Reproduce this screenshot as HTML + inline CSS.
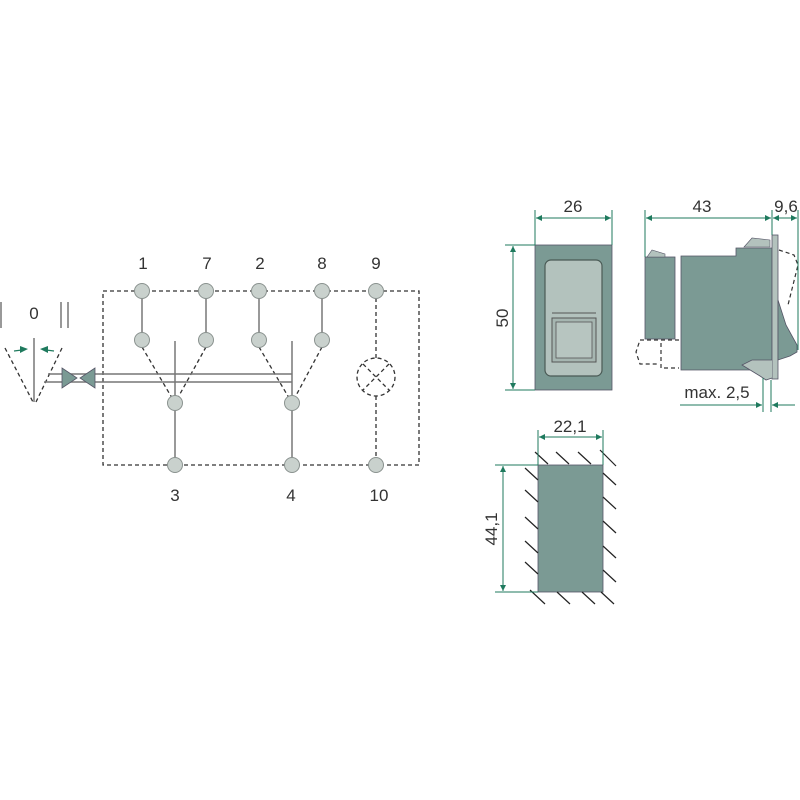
<!DOCTYPE html>
<html><head><style>html,body{margin:0;padding:0;background:#fff}svg{display:block}</style></head>
<body>
<svg width="800" height="800" viewBox="0 0 800 800" xmlns="http://www.w3.org/2000/svg" font-family="Liberation Sans, sans-serif">
<defs>
<marker id="a" viewBox="0 0 10 10" refX="10" refY="5" markerWidth="10" markerHeight="6" orient="auto-start-reverse" markerUnits="userSpaceOnUse"><path d="M0,0 L10,5 L0,10 z" fill="#1f7a5e"/></marker>
</defs>
<!-- schematic -->
<g fill="none" stroke="#333" stroke-width="1.3" stroke-dasharray="4,3">
<rect x="103" y="291" width="316" height="174"/>
<line x1="142" y1="347" x2="175" y2="403"/><line x1="206" y1="347" x2="175" y2="403"/>
<line x1="259" y1="347" x2="292" y2="403"/><line x1="322" y1="347" x2="292" y2="403"/>
<line x1="376" y1="291" x2="376" y2="358"/><line x1="376" y1="396" x2="376" y2="465"/>
<circle cx="376" cy="377" r="19"/>
<line x1="363" y1="364" x2="389" y2="390"/><line x1="389" y1="364" x2="363" y2="390"/>
<line x1="5" y1="348" x2="33" y2="402"/><line x1="62" y1="348" x2="36" y2="402"/>
</g>
<g stroke="#777" stroke-width="1.5" fill="none">
<line x1="142" y1="291" x2="142" y2="340"/><line x1="206" y1="291" x2="206" y2="340"/>
<line x1="259" y1="291" x2="259" y2="340"/><line x1="322" y1="291" x2="322" y2="340"/>
<line x1="175" y1="341" x2="175" y2="465"/><line x1="292" y1="341" x2="292" y2="465"/>
<line x1="48" y1="374" x2="292" y2="374"/><line x1="44" y1="382" x2="292" y2="382"/>
<line x1="34" y1="338" x2="34" y2="402"/>
<line x1="1" y1="302" x2="1" y2="328"/><line x1="61" y1="302" x2="61" y2="328"/><line x1="68" y1="302" x2="68" y2="328"/>
</g>
<path d="M62,368 L77,378 L62,388 z M95,368 L80,378 L95,388 z" fill="#7a9a94" stroke="#556" stroke-width="0.8"/>
<g fill="#c9d1cd" stroke="#8a928f" stroke-width="1">
<circle cx="142" cy="291" r="7.5"/><circle cx="206" cy="291" r="7.5"/><circle cx="259" cy="291" r="7.5"/><circle cx="322" cy="291" r="7.5"/><circle cx="376" cy="291" r="7.5"/>
<circle cx="142" cy="340" r="7.5"/><circle cx="206" cy="340" r="7.5"/><circle cx="259" cy="340" r="7.5"/><circle cx="322" cy="340" r="7.5"/>
<circle cx="175" cy="403" r="7.5"/><circle cx="292" cy="403" r="7.5"/>
<circle cx="175" cy="465" r="7.5"/><circle cx="292" cy="465" r="7.5"/><circle cx="376" cy="465" r="7.5"/>
</g>
<g stroke="#1f7a5e" stroke-width="1.2"><line x1="14" y1="351" x2="22" y2="350"/><line x1="54" y1="351" x2="46" y2="350"/></g>
<g fill="#1f7a5e"><path d="M20,346 L28,349 L20,353 z"/><path d="M48,346 L40,349 L48,353 z"/></g>
<g font-size="17" fill="#333" text-anchor="middle">
<text x="143" y="269">1</text><text x="207" y="269">7</text><text x="260" y="269">2</text><text x="322" y="269">8</text><text x="376" y="269">9</text>
<text x="175" y="501">3</text><text x="291" y="501">4</text><text x="379" y="501">10</text>
<text x="34" y="319">0</text>
</g>
<!-- front view -->
<rect x="535" y="245" width="77" height="145" fill="#7b9a94" stroke="#556" stroke-width="0.8"/>
<rect x="545" y="260" width="57" height="116" rx="6" fill="#b3c2bd" stroke="#4a5a55" stroke-width="1.2"/>
<line x1="552" y1="313" x2="596" y2="313" stroke="#555" stroke-width="1"/>
<rect x="552" y="318" width="44" height="44" fill="#a6b6b1" stroke="#555" stroke-width="1"/>
<rect x="556" y="322" width="36" height="36" fill="#b7c5c0" stroke="#555" stroke-width="0.8"/>
<!-- side view -->
<rect x="645" y="257" width="30" height="82" fill="#7b9a94" stroke="#556" stroke-width="0.8"/>
<path d="M647,257 L652,250 L665,254 L665,257 z" fill="#b3c2bd" stroke="#556" stroke-width="0.6"/>
<path d="M681,256 L736,256 L736,248 L772,248 L772,370 L681,370 z" fill="#7b9a94" stroke="#556" stroke-width="0.8"/>
<path d="M744,247 L752,238 L770,240 L770,247 z" fill="#b3c2bd" stroke="#556" stroke-width="0.6"/>
<rect x="772" y="235" width="6" height="144" fill="#b3c2bd" stroke="#556" stroke-width="0.8"/>
<path d="M778,300 L786,325 L797,345 L797,352 L790,356 L778,360 z" fill="#7b9a94" stroke="#556" stroke-width="0.8"/>
<path d="M779,250 L794,255 L798,265 L788,305" fill="none" stroke="#333" stroke-width="1.2" stroke-dasharray="4,3"/>
<path d="M772,360 L752,360 L742,365 L760,376 L766,380 L772,378" fill="#b3c2bd" stroke="#556" stroke-width="0.8"/>
<path d="M679,340 L661,340 L661,368 L679,368 M658,340 L640,340 L636,352 L640,364 L658,364" fill="none" stroke="#333" stroke-width="1.2" stroke-dasharray="4,3"/>
<!-- cutout -->
<rect x="538" y="465" width="65" height="127" fill="#7b9a94" stroke="#556" stroke-width="0.8"/>
<g stroke="#222" stroke-width="1.2">
<line x1="535" y1="452" x2="548" y2="464"/><line x1="556" y1="452" x2="569" y2="464"/><line x1="578" y1="452" x2="591" y2="464"/><line x1="600" y1="450" x2="616" y2="466"/>
<line x1="525" y1="468" x2="538" y2="480"/><line x1="525" y1="490" x2="538" y2="502"/><line x1="525" y1="517" x2="538" y2="529"/><line x1="525" y1="541" x2="538" y2="553"/><line x1="525" y1="562" x2="538" y2="574"/><line x1="530" y1="590" x2="545" y2="604"/>
<line x1="603" y1="473" x2="616" y2="485"/><line x1="603" y1="497" x2="616" y2="509"/><line x1="603" y1="521" x2="616" y2="533"/><line x1="603" y1="546" x2="616" y2="558"/><line x1="603" y1="570" x2="616" y2="582"/>
<line x1="557" y1="592" x2="570" y2="604"/><line x1="582" y1="592" x2="595" y2="604"/><line x1="601" y1="592" x2="614" y2="604"/>
</g>
<!-- dimensions -->
<g stroke="#1f7a5e" stroke-width="1" fill="none">
<line x1="535" y1="210" x2="535" y2="245"/><line x1="612" y1="210" x2="612" y2="245"/>
<line x1="536" y1="218" x2="611" y2="218" marker-start="url(#a)" marker-end="url(#a)"/>
<line x1="505" y1="245" x2="535" y2="245"/><line x1="505" y1="390" x2="535" y2="390"/>
<line x1="513" y1="246" x2="513" y2="389" marker-start="url(#a)" marker-end="url(#a)"/>
<line x1="645" y1="210" x2="645" y2="257"/><line x1="772" y1="210" x2="772" y2="235"/><line x1="798" y1="210" x2="798" y2="350"/>
<line x1="646" y1="218" x2="771" y2="218" marker-start="url(#a)" marker-end="url(#a)"/>
<line x1="773" y1="218" x2="797" y2="218" marker-start="url(#a)" marker-end="url(#a)"/>
<line x1="763" y1="378" x2="763" y2="412"/><line x1="771" y1="380" x2="771" y2="412"/>
<line x1="680" y1="405" x2="762" y2="405" marker-end="url(#a)"/>
<line x1="795" y1="405" x2="772" y2="405" marker-end="url(#a)"/>
<line x1="538" y1="430" x2="538" y2="465"/><line x1="603" y1="430" x2="603" y2="465"/>
<line x1="539" y1="437" x2="602" y2="437" marker-start="url(#a)" marker-end="url(#a)"/>
<line x1="495" y1="465" x2="538" y2="465"/><line x1="495" y1="592" x2="538" y2="592"/>
<line x1="503" y1="466" x2="503" y2="591" marker-start="url(#a)" marker-end="url(#a)"/>
</g>
<g font-size="17" fill="#333" text-anchor="middle">
<text x="573" y="212">26</text><text x="702" y="212">43</text><text x="786" y="212">9,6</text>
<text x="717" y="398">max. 2,5</text><text x="570" y="432">22,1</text>
<text transform="translate(508,318) rotate(-90)">50</text>
<text transform="translate(497,529) rotate(-90)">44,1</text>
</g>
</svg>
</body></html>
